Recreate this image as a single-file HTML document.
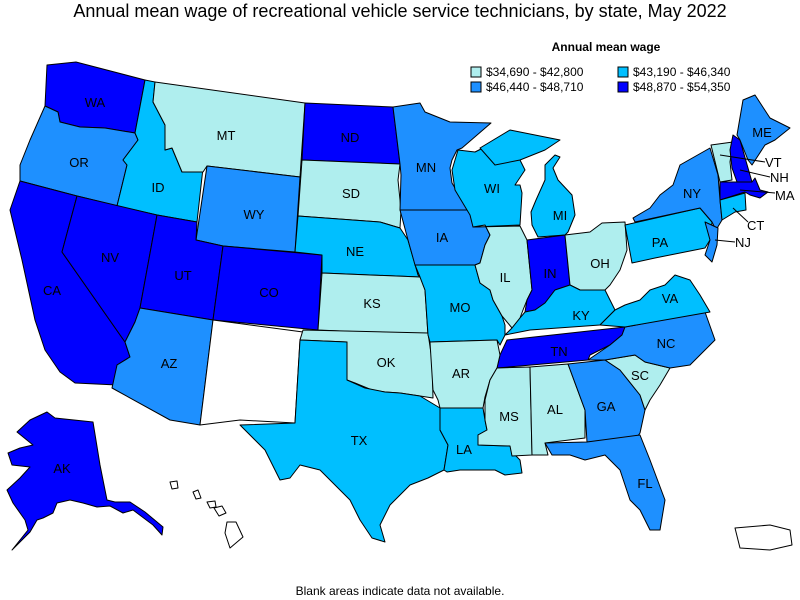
<!DOCTYPE html>
<html><head><meta charset="utf-8"><style>
body{margin:0;background:#fff;width:800px;height:600px;overflow:hidden;font-family:"Liberation Sans",Arial,sans-serif}
svg{display:block}
.P{fill:#AFEEEE}.S{fill:#00BFFF}.D{fill:#1E90FF}.B{fill:#0000FF}.W{fill:#fff}
polygon{stroke:#000;stroke-width:1;stroke-linejoin:round}
text{font-family:"Liberation Sans",Arial,sans-serif}
.l{font-size:13px;text-anchor:middle}
</style></head><body>
<svg width="800" height="600" viewBox="0 0 800 600">
<text x="400" y="17" font-size="18" text-anchor="middle">Annual mean wage of recreational vehicle service technicians, by state, May 2022</text>
<text x="606" y="51" font-size="12" font-weight="bold" text-anchor="middle">Annual mean wage</text>
<rect x="471" y="67" width="10" height="10" class="P" stroke="#000"/><text x="486" y="76" font-size="12">$34,690 - $42,800</text>
<rect x="618" y="67" width="10" height="10" class="S" stroke="#000"/><text x="633" y="76" font-size="12">$43,190 - $46,340</text>
<rect x="471" y="82" width="10" height="10" class="D" stroke="#000"/><text x="486" y="91" font-size="12">$46,440 - $48,710</text>
<rect x="618" y="82" width="10" height="10" class="B" stroke="#000"/><text x="633" y="91" font-size="12">$48,870 - $54,350</text>

<polygon class="B" points="47,65 76,62 145,80 135,133 105,128 80,127 60,122 58,112 45,106"/>
<polygon class="D" points="45,106 58,112 60,122 80,127 105,128 135,133 138,140 123,160 127,165 117,206 77,196 20,181 20,165 30,140"/>
<polygon class="S" points="145,80 155,82 153,102 165,125 165,150 172,148 182,172 203,168 197,222 157,215 117,206 127,165 123,160 138,140 135,133"/>
<polygon class="P" points="155,82 305,103 300,177 207,166 203,172 182,172 172,148 165,150 165,125 153,102"/>
<polygon class="D" points="207,166 300,177 295,252 223,246 196,240"/>
<polygon class="B" points="20,181 77,196 62,252 125,342 130,357 117,365 117,385 75,383 60,372 45,350 35,320 22,260 10,210"/>
<polygon class="B" points="77,196 157,215 140,308 135,322 125,342 62,252"/>
<polygon class="B" points="157,215 197,222 196,240 223,246 213,320 140,308"/>
<polygon class="D" points="140,308 213,320 200,425 170,420 112,388 117,365 130,357 125,342 135,322"/>
<polygon class="B" points="223,246 322,255 318,330 213,320"/>
<polygon class="W" points="213,320 303,332 300,340 295,423 240,420 200,425"/>
<polygon class="B" points="305,103 393,107 400,164 302,160"/>
<polygon class="P" points="302,160 400,164 398,180 401,210 400,228 380,222 298,216"/>
<polygon class="S" points="298,216 380,222 400,228 408,240 418,275 420,277 322,273 322,255 295,252"/>
<polygon class="P" points="322,273 420,277 425,290 428,335 318,330"/>
<polygon class="P" points="303,330 428,333 432,360 433,398 420,396 400,393 385,392 372,390 355,383 347,380 347,342 300,340"/>
<polygon class="S" points="300,340 347,342 347,380 365,388 385,392 400,393 420,396 440,408 440,430 448,445 444,470 428,478 410,485 390,505 380,525 385,542 372,538 360,520 350,500 320,470 300,465 290,478 280,480 265,450 240,425 295,423"/>
<polygon class="D" points="393,107 420,103 425,112 450,122 491,123 462,148 457,150 452,160 450,168 452,183 455,188 475,210 400,210 401,175 400,164"/>
<polygon class="D" points="400,210 475,210 485,225 490,235 485,245 480,263 475,265 415,265 408,240"/>
<polygon class="S" points="415,265 475,265 480,283 490,290 493,300 502,316 505,325 505,335 500,345 497,340 430,342 428,335 425,290 420,277"/>
<polygon class="S" points="458,150 475,152 483,148 505,140 510,148 515,146 520,160 525,170 515,185 520,185 522,193 520,225 473,227 470,215 455,190 452,170"/>
<polygon class="S" points="480,148 510,130 535,135 560,140 545,150 520,160 495,165"/>
<polygon class="S" points="538,237 532,225 531,212 536,200 545,180 545,165 555,155 560,157 553,168 558,180 572,195 575,215 568,232 565,235"/>
<polygon class="P" points="473,227 520,226 527,240 532,290 527,300 523,310 520,318 512,328 507,322 502,316 493,300 490,290 480,283 475,265 480,263 485,245 490,235 485,225"/>
<polygon class="B" points="527,240 565,235 570,285 555,290 545,303 535,310 525,312 527,300 532,290"/>
<polygon class="P" points="565,235 590,232 602,223 625,222 627,250 620,270 610,285 605,290 580,290 570,285"/>
<polygon class="S" points="512,328 520,318 525,312 535,310 545,303 555,290 570,285 580,290 605,290 615,310 600,325 530,330 505,335"/>
<polygon class="B" points="507,340 625,327 622,335 610,345 590,355 588,360 520,366 497,368 500,355"/>
<polygon class="P" points="430,342 497,340 500,355 497,368 490,380 485,397 483,408 440,408 438,400 433,390"/>
<polygon class="S" points="440,408 483,408 485,420 487,430 478,435 478,445 510,446 515,455 520,460 522,473 505,475 495,470 460,470 447,472 444,470 448,445 440,430"/>
<polygon class="P" points="497,368 530,367 532,455 512,456 510,446 478,445 478,435 487,430 485,420 485,400 490,380"/>
<polygon class="P" points="530,367 568,364 585,410 585,438 545,443 548,455 532,455"/>
<polygon class="D" points="568,364 605,360 620,370 640,395 645,410 640,433 635,440 587,442 585,410"/>
<polygon class="D" points="545,443 587,442 640,435 650,460 665,500 660,530 650,530 640,510 630,500 620,470 605,455 585,460 570,455 552,455"/>
<polygon class="P" points="605,360 635,355 645,362 670,368 660,385 650,400 645,410 640,395 620,370"/>
<polygon class="D" points="588,360 610,345 622,335 625,327 705,312 715,340 700,355 690,365 670,368 645,362 635,355 605,360"/>
<polygon class="S" points="600,325 615,310 625,305 640,300 650,290 665,285 675,275 690,280 700,295 710,312 625,327"/>
<polygon class="S" points="625,225 700,208 712,222 710,240 705,248 655,258 632,263"/>
<polygon class="D" points="633,218 650,208 660,195 673,185 680,165 710,148 718,175 720,200 722,220 716,230 712,222 700,208 635,222"/>
<polygon class="D" points="705,222 718,228 717,245 712,262 705,255 710,240"/>
<polygon class="P" points="711,145 733,142 730,162 732,180 720,182"/>
<polygon class="B" points="733,135 740,140 752,182 737,182 732,168 730,150"/>
<polygon class="D" points="737,135 743,100 755,95 770,118 790,128 775,140 765,145 752,165 748,160 740,140"/>
<polygon class="B" points="720,182 752,182 755,178 760,190 768,192 760,198 750,195 745,192 720,200"/>
<polygon class="S" points="720,200 745,193 746,210 735,212 722,220"/>
<polygon class="B" points="17,432 30,420 47,412 55,418 93,422 100,465 107,500 115,502 130,502 145,512 163,527 162,535 153,525 133,510 123,513 110,506 97,507 83,503 70,500 57,503 53,513 43,518 37,520 30,532 12,550 28,530 25,520 13,503 7,490 20,478 30,467 12,465 8,453 20,448 33,445"/>
<polygon class="W" points="170,482 177,481 178,488 172,489"/><polygon class="W" points="193,492 198,490 201,498 196,499"/><polygon class="W" points="207,502 215,501 216,507 210,508"/><polygon class="W" points="214,508 222,506 226,513 219,516"/><polygon class="W" points="227,522 236,522 243,537 230,548 225,533"/>
<polygon class="W" points="735,528 770,525 790,530 792,545 770,550 740,548"/>

<g class="l">
<text x="95" y="107">WA</text><text x="79" y="167">OR</text><text x="158" y="192">ID</text><text x="226" y="140">MT</text><text x="254" y="219">WY</text>
<text x="52" y="295">CA</text><text x="110" y="262">NV</text><text x="183" y="280">UT</text><text x="169" y="368">AZ</text><text x="269" y="297">CO</text>
<text x="350" y="142">ND</text><text x="351" y="198">SD</text><text x="355" y="256">NE</text><text x="372" y="308">KS</text><text x="386" y="367">OK</text><text x="359" y="445">TX</text>
<text x="426" y="172">MN</text><text x="442" y="242">IA</text><text x="460" y="312">MO</text><text x="461" y="378">AR</text><text x="464" y="454">LA</text>
<text x="492" y="193">WI</text><text x="505" y="282">IL</text><text x="560" y="220">MI</text><text x="550" y="278">IN</text><text x="600" y="268">OH</text>
<text x="581" y="320">KY</text><text x="559" y="356">TN</text><text x="509" y="421">MS</text><text x="555" y="414">AL</text><text x="606" y="411">GA</text><text x="640" y="380">SC</text><text x="666" y="348">NC</text><text x="670" y="303">VA</text><text x="645" y="488">FL</text>
<text x="660" y="247">PA</text><text x="692" y="198">NY</text><text x="762" y="137">ME</text><text x="62" y="473">AK</text>
</g>
<g font-size="13">
<text x="765" y="167">VT</text><text x="770" y="182">NH</text><text x="775" y="200">MA</text><text x="747" y="230">CT</text><text x="735" y="247">NJ</text>
</g>
<g stroke="#000" stroke-width="1"><line x1="720" y1="155" x2="765" y2="162"/><line x1="740" y1="170" x2="770" y2="177"/><line x1="740" y1="190" x2="775" y2="193"/><line x1="733" y1="208" x2="748" y2="222"/><line x1="715" y1="240" x2="735" y2="242"/></g>
<text x="400" y="595" font-size="12" text-anchor="middle">Blank areas indicate data not available.</text>
</svg>
</body></html>
